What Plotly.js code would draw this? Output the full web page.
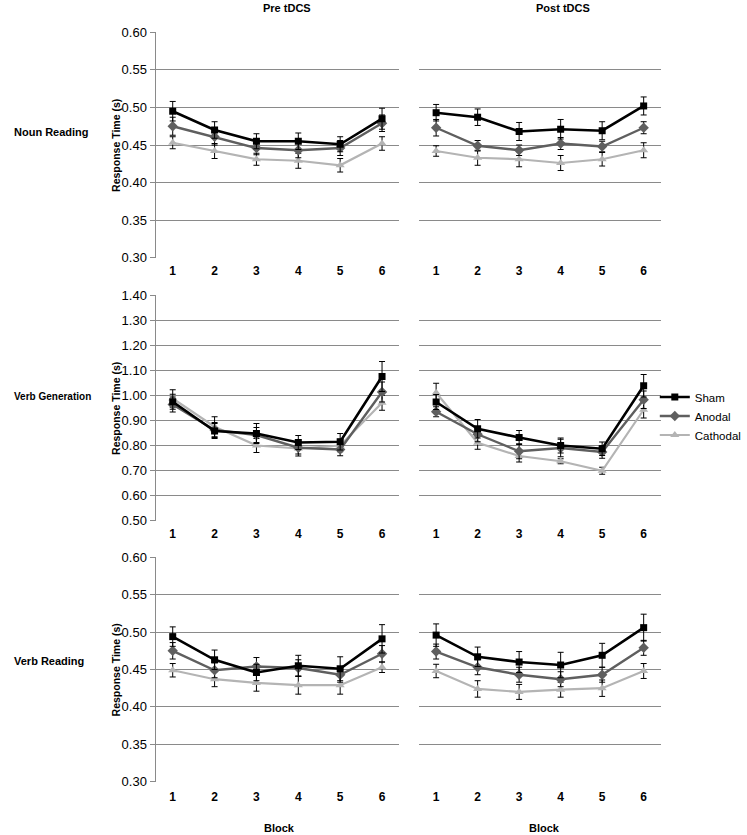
<!DOCTYPE html>
<html>
<head>
<meta charset="utf-8">
<script src="https://cdn.plot.ly/plotly-3.0.1.min.js"></script>
<style>html,body{margin:0;padding:0;background:#fff;}#chart{width:747px;height:835px;}</style>
</head>
<body>
<div id="chart"></div>
<script>
// ---- data ----
const blocks = ['1', '2', '3', '4', '5', '6'];
const seriesNames = ['Sham', 'Anodal', 'Cathodal'];
const rowLabels = ['Noun Reading', 'Verb Generation', 'Verb Reading'];
const colLabels = ['Pre tDCS', 'Post tDCS'];

const nounPreSham = [0.495, 0.470, 0.455, 0.455, 0.451, 0.485];
const nounPreAnodal = [0.475, 0.461, 0.446, 0.443, 0.446, 0.479];
const nounPreCathodal = [0.453, 0.442, 0.431, 0.429, 0.423, 0.452];
const nounPreShamErr = [0.013, 0.011, 0.010, 0.011, 0.010, 0.014];
const nounPreAnodalErr = [0.012, 0.011, 0.009, 0.010, 0.010, 0.011];
const nounPreCathodalErr = [0.008, 0.010, 0.008, 0.010, 0.009, 0.009];

const nounPostSham = [0.493, 0.487, 0.468, 0.471, 0.469, 0.502];
const nounPostAnodal = [0.473, 0.449, 0.443, 0.452, 0.448, 0.473];
const nounPostCathodal = [0.442, 0.433, 0.431, 0.426, 0.431, 0.443];
const nounPostShamErr = [0.011, 0.011, 0.012, 0.013, 0.012, 0.012];
const nounPostAnodalErr = [0.011, 0.007, 0.007, 0.008, 0.007, 0.008];
const nounPostCathodalErr = [0.007, 0.010, 0.010, 0.010, 0.009, 0.010];

const genPreSham = [0.975, 0.858, 0.848, 0.812, 0.815, 1.076];
const genPreAnodal = [0.964, 0.862, 0.842, 0.791, 0.784, 1.014];
const genPreCathodal = [0.988, 0.875, 0.800, 0.788, 0.800, 0.971];
const genPreShamErr = [0.030, 0.030, 0.040, 0.028, 0.033, 0.060];
const genPreAnodalErr = [0.030, 0.030, 0.030, 0.025, 0.025, 0.040];
const genPreCathodalErr = [0.035, 0.040, 0.028, 0.030, 0.025, 0.030];

const genPostSham = [0.974, 0.867, 0.832, 0.800, 0.787, 1.039];
const genPostAnodal = [0.935, 0.845, 0.777, 0.790, 0.774, 0.983];
const genPostCathodal = [1.011, 0.811, 0.758, 0.737, 0.699, 0.943];
const genPostShamErr = [0.030, 0.037, 0.028, 0.030, 0.027, 0.045];
const genPostAnodalErr = [0.020, 0.030, 0.030, 0.035, 0.025, 0.035];
const genPostCathodalErr = [0.038, 0.026, 0.024, 0.010, 0.014, 0.033];

const readPreSham = [0.494, 0.463, 0.446, 0.455, 0.451, 0.491];
const readPreAnodal = [0.475, 0.449, 0.454, 0.452, 0.443, 0.471];
const readPreCathodal = [0.449, 0.437, 0.432, 0.429, 0.429, 0.453];
const readPreShamErr = [0.013, 0.013, 0.011, 0.014, 0.016, 0.019];
const readPreAnodalErr = [0.011, 0.010, 0.012, 0.011, 0.010, 0.011];
const readPreCathodalErr = [0.009, 0.010, 0.011, 0.012, 0.012, 0.007];

const readPostSham = [0.496, 0.467, 0.460, 0.456, 0.469, 0.506];
const readPostAnodal = [0.474, 0.453, 0.443, 0.437, 0.443, 0.479];
const readPostCathodal = [0.448, 0.424, 0.420, 0.423, 0.425, 0.448];
const readPostShamErr = [0.015, 0.013, 0.014, 0.017, 0.016, 0.018];
const readPostAnodalErr = [0.010, 0.010, 0.010, 0.010, 0.010, 0.010];
const readPostCathodalErr = [0.009, 0.011, 0.010, 0.010, 0.011, 0.010];

// ---- build ----
const W = 747, H = 835;
const px = v => v / W;
const py = v => 1 - v / H;

const panels = [
  { vals: [nounPreSham, nounPreAnodal, nounPreCathodal], errs: [nounPreShamErr, nounPreAnodalErr, nounPreCathodalErr], row: 0, col: 0 },
  { vals: [nounPostSham, nounPostAnodal, nounPostCathodal], errs: [nounPostShamErr, nounPostAnodalErr, nounPostCathodalErr], row: 0, col: 1 },
  { vals: [genPreSham, genPreAnodal, genPreCathodal], errs: [genPreShamErr, genPreAnodalErr, genPreCathodalErr], row: 1, col: 0 },
  { vals: [genPostSham, genPostAnodal, genPostCathodal], errs: [genPostShamErr, genPostAnodalErr, genPostCathodalErr], row: 1, col: 1 },
  { vals: [readPreSham, readPreAnodal, readPreCathodal], errs: [readPreShamErr, readPreAnodalErr, readPreCathodalErr], row: 2, col: 0 },
  { vals: [readPostSham, readPostAnodal, readPostCathodal], errs: [readPostShamErr, readPostAnodalErr, readPostCathodalErr], row: 2, col: 1 }
];

const colPx = [[157, 403], [423, 667]];
const rowPx = [[32, 258], [295, 521], [557, 782]];
const rowRanges = [[0.2995, 0.6005], [0.498, 1.402], [0.2995, 0.6005]];
const rowDtick = [0.05, 0.10, 0.05];

const colors = ['#000000', '#5f5f5f', '#b4b4b4'];
const symbols = ['square', 'diamond', 'triangle-up'];
const msize = [7, 8, 8];
const lw = [2.6, 2.4, 2.2];

const FONT = 'Liberation Sans, Arial, sans-serif';
const traces = [];
const layout = {
  width: W, height: H,
  margin: { l: 0, r: 0, t: 0, b: 0 },
  paper_bgcolor: '#ffffff', plot_bgcolor: '#ffffff',
  font: { family: FONT, color: '#000' },
  showlegend: true,
  legend: {
    x: px(661), y: py(416), xanchor: 'left', yanchor: 'middle',
    font: { family: FONT, size: 11.5, color: '#000' },
    itemwidth: 30, tracegroupgap: 0, bgcolor: 'rgba(0,0,0,0)'
  },
  annotations: [],
  shapes: []
};

panels.forEach((p, i) => {
  const n = i + 1;
  const xa = 'x' + (n === 1 ? '' : n);
  const ya = 'y' + (n === 1 ? '' : n);
  const xk = 'xaxis' + (n === 1 ? '' : n);
  const yk = 'yaxis' + (n === 1 ? '' : n);
  const cp = colPx[p.col], rp = rowPx[p.row];
  layout[xk] = {
    domain: [px(cp[0]), px(cp[1])], anchor: ya, type: 'category',
    categoryorder: 'array', categoryarray: blocks,
    showgrid: false, zeroline: false, showline: false, ticks: '',
    tickfont: { family: FONT, size: 12, color: '#000', weight: 'bold' },
    ticklabelstandoff: p.row === 2 ? 6 : 4, fixedrange: true
  };
  const left = p.col === 0;
  layout[yk] = {
    domain: [py(rp[1]), py(rp[0])], anchor: xa,
    range: rowRanges[p.row], dtick: rowDtick[p.row], tick0: 0, tickformat: '.2f',
    showgrid: true, gridcolor: '#8a8a8a', gridwidth: 1, zeroline: false,
    showline: left, linecolor: '#8a8a8a', linewidth: 1,
    ticks: left ? 'outside' : '', ticklen: 5, tickcolor: '#8a8a8a',
    showticklabels: left,
    tickfont: { family: FONT, size: 13, color: '#000' }, fixedrange: true
  };
  for (let s = 2; s >= 0; s--) {
    traces.push({
      type: 'scatter', mode: 'lines+markers',
      x: blocks, y: p.vals[s], xaxis: xa, yaxis: ya,
      name: seriesNames[s], legendrank: s + 1, showlegend: i === 0,
      line: { color: colors[s], width: lw[s] },
      marker: { color: colors[s], symbol: symbols[s], size: msize[s] },
      error_y: { type: 'data', array: p.errs[s], visible: true, color: '#000', thickness: 1, width: 3 },
      cliponaxis: false, hoverinfo: 'skip'
    });
  }
  if (left) {
    layout.annotations.push({
      xref: 'paper', yref: 'paper', x: px(117), y: py((rp[0] + rp[1]) / 2),
      text: '<b>Response Time (s)</b>', textangle: -90, showarrow: false,
      xanchor: 'center', yanchor: 'middle', font: { family: FONT, size: 10.5, color: '#000' }
    });
  }
});

// column titles
layout.annotations.push({ xref: 'paper', yref: 'paper', x: px(290), y: py(8), text: '<b>' + colLabels[0] + '</b>', showarrow: false, xanchor: 'center', yanchor: 'middle', font: { family: FONT, size: 11, color: '#000' } });
layout.annotations.push({ xref: 'paper', yref: 'paper', x: px(568), y: py(8), text: '<b>' + colLabels[1] + '</b>', showarrow: false, xanchor: 'center', yanchor: 'middle', font: { family: FONT, size: 11, color: '#000' } });
// row labels
const rowLabelY = [132, 396, 661];
const rowLabelSize = [11, 10, 11];
rowLabels.forEach((t, r) => {
  layout.annotations.push({ xref: 'paper', yref: 'paper', x: px(12), y: py(rowLabelY[r]), text: '<b>' + t + '</b>', showarrow: false, xanchor: 'left', yanchor: 'middle', font: { family: FONT, size: rowLabelSize[r], color: '#000' } });
});
// Block titles
layout.annotations.push({ xref: 'paper', yref: 'paper', x: px(282), y: py(828), text: '<b>Block</b>', showarrow: false, xanchor: 'center', yanchor: 'middle', font: { family: FONT, size: 11, color: '#000' } });
layout.annotations.push({ xref: 'paper', yref: 'paper', x: px(550), y: py(828), text: '<b>Block</b>', showarrow: false, xanchor: 'center', yanchor: 'middle', font: { family: FONT, size: 11, color: '#000' } });

Plotly.newPlot('chart', traces, layout, { staticPlot: true, displayModeBar: false });
</script>
</body>
</html>
